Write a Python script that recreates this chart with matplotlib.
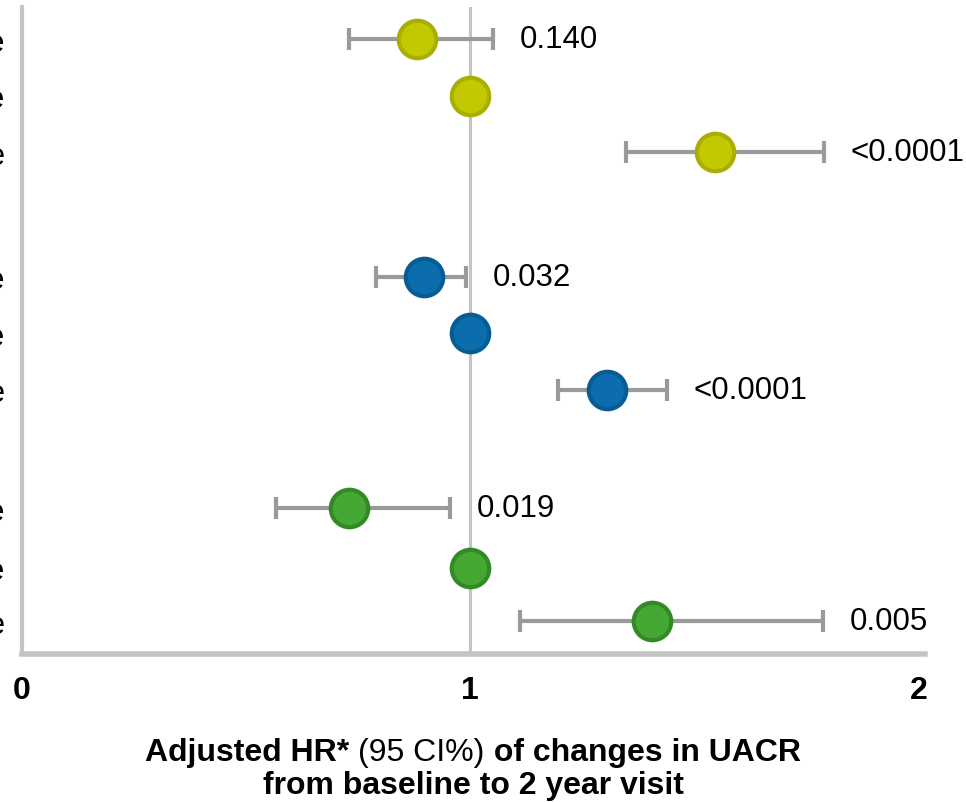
import matplotlib
matplotlib.use("Agg")
import matplotlib.pyplot as plt

# ---- data ----
row_labels = ["Decrease", "Stable", "Increase",
              "Decrease", "Stable", "Increase",
              "Decrease", "Stable", "Increase"]
row_pos = [0, 1, 2, 4.2, 5.2, 6.2, 8.3, 9.35, 10.3]
hr = [0.882, 1.0, 1.547, 0.897, 1.0, 1.304, 0.730, 1.0, 1.406]
ci_low = [0.730, None, 1.348, 0.790, None, 1.196, 0.567, None, 1.112]
ci_high = [1.051, None, 1.790, 0.991, None, 1.440, 0.955, None, 1.788]
p_values = ["0.140", "", "<0.0001", "0.032", "", "<0.0001", "0.019", "", "0.005"]
fill_colors = ["#c3c900"] * 3 + ["#0b6dab"] * 3 + ["#45a832"] * 3
edge_colors = ["#a9ae00"] * 3 + ["#085c94"] * 3 + ["#338a25"] * 3
x_ticks = [0, 1, 2]

plt.rcParams["font.family"] = ["Liberation Sans", "DejaVu Sans"]

fig = plt.figure(figsize=(9.66, 8.03), dpi=100)
ax = fig.add_axes([0.0228, 0.1843, 0.935, 0.8057])

# reference line at HR = 1
ax.axvline(1, color="#c4c4c4", lw=2.2, zorder=1)

for i in range(len(hr)):
    y = row_pos[i]
    if ci_low[i] is not None:
        ax.errorbar(hr[i], y,
                    xerr=[[hr[i] - ci_low[i]], [ci_high[i] - hr[i]]],
                    fmt="none", ecolor="#9a9a9a", elinewidth=3,
                    capsize=8, capthick=3, zorder=2)
    ax.plot(hr[i], y, "o", ms=27, mfc=fill_colors[i],
            mec=edge_colors[i], mew=3, zorder=3)
    if p_values[i]:
        ax.annotate(p_values[i], xy=(ci_high[i], y), xytext=(19, 0),
                    textcoords="offset points", ha="left", va="center",
                    fontsize=22.5, color="black")

ax.set_xlim(0, 2.015)
ax.set_ylim(10.88, -0.57)
ax.set_xticks(x_ticks)
ax.set_xticklabels([str(t) for t in x_ticks], fontsize=23, fontweight="bold")
ax.set_yticks(row_pos)
ax.set_yticklabels(row_labels, fontsize=22)
ax.tick_params(axis="x", length=0, pad=15)
ax.tick_params(axis="y", length=0, pad=12)

for s in ["top", "right"]:
    ax.spines[s].set_visible(False)
ax.spines["left"].set_color("#c4c4c4")
ax.spines["left"].set_linewidth(3)
ax.spines["bottom"].set_color("#c4c4c4")
ax.spines["bottom"].set_linewidth(4)
ax.spines["bottom"].set_capstyle("projecting")
ax.spines["left"].set_capstyle("projecting")

# x axis title with mixed weights, laid out piece by piece
fig.canvas.draw()
renderer = fig.canvas.get_renderer()
pieces = [("Adjusted HR* ", "bold"), ("(95 CI%)", "normal"),
          (" of changes in UACR", "bold")]
texts = []
for s, w in pieces:
    t = fig.text(0, 0, s, fontsize=23, fontweight=w, va="baseline", ha="left")
    texts.append(t)
widths = [t.get_window_extent(renderer).width for t in texts]
total = sum(widths)
center_px = 473
x0 = center_px - total / 2
y1 = 1 - 761 / 803
for t, w in zip(texts, widths):
    t.set_position((x0 / 966, y1))
    x0 += w
fig.text(center_px / 966, 1 - 794 / 803, "from baseline to 2 year visit",
         fontsize=23, fontweight="bold", ha="center", va="baseline")

fig.savefig("out.png", dpi=100)
